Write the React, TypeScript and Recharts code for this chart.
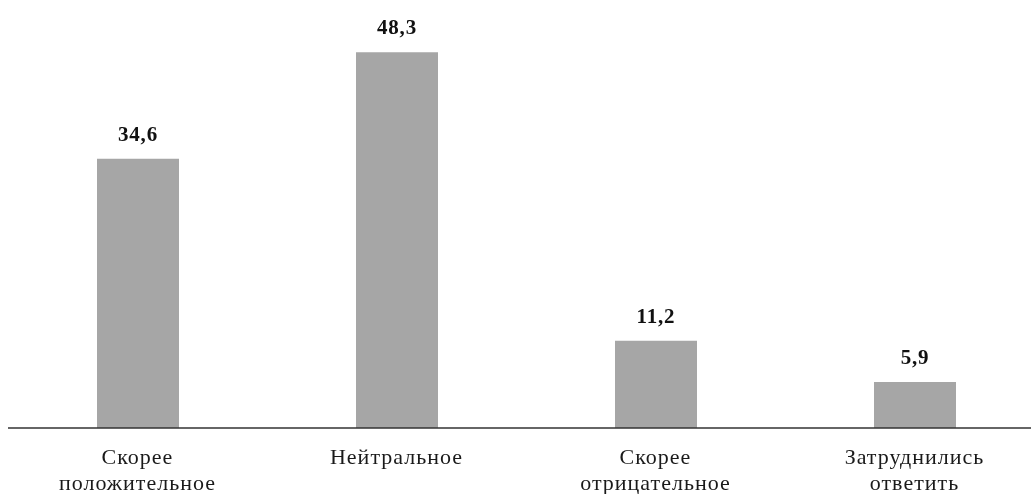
import React from "react";
import { BarChart, Bar, XAxis, YAxis, LabelList } from "recharts";

const categories: string[] = ["Скорее\nположительное", "Нейтральное", "Скорее\nотрицательное", "Затруднились\nответить"];
const values: number[] = [34.6, 48.3, 11.2, 5.9];
const valueLabels: string[] = ["34,6", "48,3", "11,2", "5,9"];

const data = categories.map((c, i) => ({ name: c, value: values[i], label: valueLabels[i] }));

const FONT = "Liberation Serif, DejaVu Serif, serif";

const Tick = (props: any) => {
  const { x, y, payload } = props;
  const lines = String(payload.value).split("\n");
  return (
    <text x={x} y={y} textAnchor="middle" style={{ fontFamily: FONT, fontSize: 22, letterSpacing: 1 }} fill="#1a1a1a">
      {lines.map((l, i) => (
        <tspan key={i} x={x} y={y + 28 + i * 26}>{l}</tspan>
      ))}
    </text>
  );
};

const ValueLabel = (props: any) => {
  const { x, y, width, index } = props;
  return (
    <text x={x + width / 2} y={y - 18} textAnchor="middle" style={{ fontFamily: FONT, fontSize: 21, fontWeight: "bold", letterSpacing: 0.8 }} fill="#111">
      {valueLabels[index]}
    </text>
  );
};

export default function App() {
  return (
    <div style={{ position: "fixed", left: 8, top: 8, width: 1023, height: 486, overflow: "hidden", fontFamily: FONT }}>
      <BarChart
        width={1040}
        height={486}
        data={data}
        margin={{ top: 31, right: 4, left: 0, bottom: 6 }}
        barCategoryGap={0}
      >
        <XAxis
          dataKey="name"
          interval={0}
          tickLine={false}
          axisLine={{ stroke: "#333", strokeWidth: 1.5 }}
          tick={<Tick />}
          height={60}
        />
        <YAxis hide domain={[0, 50]} />
        <Bar dataKey="value" fill="#a6a6a6" barSize={82} isAnimationActive={false}>
          <LabelList dataKey="label" content={<ValueLabel />} />
        </Bar>
      </BarChart>
    </div>
  );
}
